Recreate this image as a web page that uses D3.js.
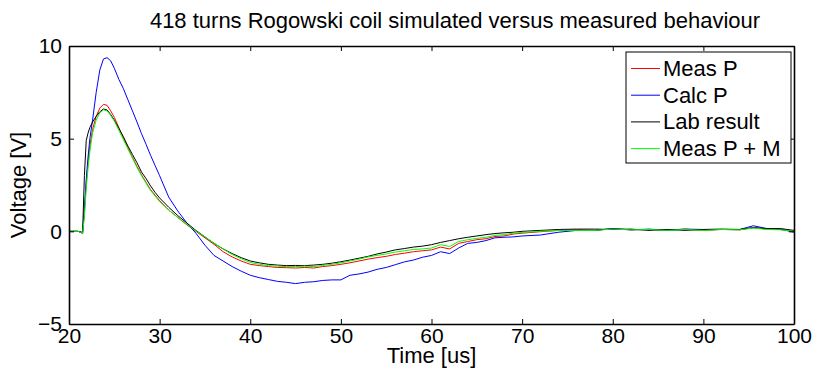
<!DOCTYPE html>
<html><head><meta charset="utf-8">
<script src="https://cdn.jsdelivr.net/npm/d3@7"></script>
<style>html,body{margin:0;padding:0;background:#fff;} svg{display:block;font-family:"Liberation Sans",Arial,sans-serif;}</style>
</head><body>
<script>
const title = "418 turns Rogowski coil simulated versus measured behaviour";
const xLabel = "Time [us]";
const yLabel = "Voltage [V]";
const xTicks = [20,30,40,50,60,70,80,90,100];
const yTicks = [-5,0,5,10];
const seriesNames = ["Meas P","Calc P","Lab result","Meas P + M"];
const seriesColors = ["#ff0000","#0000ff","#000000","#00ff00"];

const time = [20,21,21.5,21.7,21.9,22.1,22.3,22.6,23,23.4,23.8,24.2,24.6,25,25.5,26,26.5,27,27.5,28,28.5,29,29.5,30,
31,32,33,34,35,36,37,38,39,40,41,42,43,44,45,46,47,48,49,50,51,52,53,54,55,56,57,58,59,60,61,62,63,64,65,66,67,68,69,70,
72,74,76,78,80,82,84,86,88,90,92,94,95.5,97,98.5,100];

const measP = [0,0,-0.1,1.0,2.6,3.7,4.6,5.5,6.2,6.65,6.85,6.8,6.5,6.15,5.6,5.05,4.5,4.0,3.5,3.05,2.65,2.25,1.95,1.65,
1.15,0.75,0.35,0,-0.35,-0.7,-1.1,-1.38,-1.6,-1.78,-1.85,-1.9,-1.95,-1.96,-1.98,-1.95,-1.98,-1.9,-1.85,-1.78,-1.7,-1.6,-1.5,-1.42,-1.35,-1.25,-1.18,-1.1,-1.05,-1.0,-0.85,-0.95,-0.65,-0.55,-0.45,-0.4,-0.28,-0.25,-0.15,-0.1,
-0.02,0.05,0.08,0.05,0.15,0.08,0.1,0.08,0.12,0.05,0.1,0.08,0.2,0.12,0.1,0.0];

const calcP = [0,0,-0.1,1.2,2.8,4.0,5.0,6.0,7.5,8.7,9.3,9.37,9.2,8.8,8.2,7.7,7.1,6.5,5.9,5.27,4.7,4.1,3.55,3.0,
1.85,1.1,0.45,-0.1,-0.75,-1.3,-1.6,-1.9,-2.15,-2.37,-2.5,-2.6,-2.7,-2.75,-2.82,-2.75,-2.72,-2.65,-2.62,-2.62,-2.37,-2.3,-2.2,-2.05,-1.95,-1.8,-1.65,-1.55,-1.4,-1.3,-1.1,-1.2,-0.9,-0.65,-0.6,-0.5,-0.35,-0.32,-0.3,-0.25,
-0.2,-0.05,0.05,0.05,0.15,0.08,0.12,0.05,0.12,0.1,0.1,0.1,0.3,0.15,0.12,-0.05];

const labResult = [0,0,-0.05,3.0,4.9,5.3,5.6,5.9,6.2,6.45,6.6,6.55,6.3,6.0,5.55,5.1,4.6,4.15,3.7,3.2,2.85,2.45,2.1,1.8,
1.3,0.85,0.45,0.05,-0.3,-0.65,-0.95,-1.2,-1.42,-1.6,-1.7,-1.78,-1.82,-1.85,-1.84,-1.85,-1.82,-1.78,-1.72,-1.64,-1.55,-1.45,-1.35,-1.22,-1.12,-1.0,-0.93,-0.85,-0.8,-0.72,-0.6,-0.5,-0.4,-0.32,-0.25,-0.18,-0.12,-0.08,-0.05,0.0,
0.05,0.1,0.12,0.12,0.1,0.12,0.05,0.1,0.05,0.1,0.12,0.1,0.2,0.15,0.15,0.05];

const measPM = [0,0,-0.1,0.8,2.3,3.4,4.3,5.3,6.0,6.4,6.55,6.5,6.25,5.95,5.45,4.95,4.45,3.95,3.45,3.0,2.6,2.2,1.9,1.6,
1.15,0.75,0.38,0.02,-0.3,-0.65,-0.95,-1.25,-1.48,-1.68,-1.78,-1.85,-1.88,-1.9,-1.9,-1.88,-1.9,-1.84,-1.78,-1.7,-1.6,-1.5,-1.38,-1.3,-1.22,-1.12,-1.05,-0.98,-0.95,-0.9,-0.72,-0.82,-0.55,-0.45,-0.38,-0.32,-0.22,-0.18,-0.1,-0.06,
0.0,0.05,0.05,0.05,0.12,0.08,0.1,0.05,0.1,0.05,0.1,0.08,0.18,0.1,0.08,0.0];

const seriesValues = [measP, calcP, labResult, measPM];

const W = 816, H = 376;
const mLeft = 69, mRight = 794, mTop = 46, mBottom = 324;
const svg = d3.select("body").append("svg").attr("width", W).attr("height", H);

const x = d3.scaleLinear().domain([20,100]).range([mLeft,mRight]);
const y = d3.scaleLinear().domain([-5,10]).range([mBottom,mTop]);

// data lines
const line = d3.line().x(d => x(d[0])).y(d => y(d[1]));
seriesValues.forEach((vals, i) => {
  svg.append("path")
    .datum(time.map((t, j) => [t, vals[j]]))
    .attr("d", line)
    .attr("fill", "none")
    .attr("stroke", seriesColors[i])
    .attr("stroke-width", 1)
    .attr("stroke-linejoin", "round");
});

// axes with inward ticks
const tickLen = 5;
const xAxisB = d3.axisBottom(x).tickValues(xTicks).tickSizeInner(-tickLen).tickSizeOuter(0).tickPadding(4);
const xAxisT = d3.axisTop(x).tickValues(xTicks).tickSizeInner(-tickLen).tickSizeOuter(0).tickFormat("");
const yAxisL = d3.axisLeft(y).tickValues(yTicks).tickSizeInner(-tickLen).tickSizeOuter(0).tickPadding(7);
const yAxisR = d3.axisRight(y).tickValues(yTicks).tickSizeInner(-tickLen).tickSizeOuter(0).tickFormat("");

function style(g){
  g.select(".domain").attr("stroke","#000").attr("stroke-width",1.6);
  g.selectAll(".tick line").attr("stroke","#000").attr("stroke-width",1);
  g.selectAll(".tick text").attr("fill","#000").style("font-size","21px").style("font-family",'"Liberation Sans",Arial,sans-serif');
}
svg.append("g").attr("transform",`translate(0,${mBottom})`).call(xAxisB).call(style);
svg.append("g").attr("transform",`translate(0,${mTop})`).call(xAxisT).call(style);
svg.append("g").attr("transform",`translate(${mLeft},0)`).call(yAxisL).call(style);
svg.append("g").attr("transform",`translate(${mRight},0)`).call(yAxisR).call(style);

// title and labels
svg.append("text").attr("x",455).attr("y",28).attr("text-anchor","middle")
  .style("font-size","22px").text(title);
svg.append("text").attr("x",(mLeft+mRight)/2).attr("y",363).attr("text-anchor","middle")
  .style("font-size","22px").text(xLabel);
svg.append("text").attr("transform",`translate(26,${(mTop+mBottom)/2}) rotate(-90)`).attr("text-anchor","middle")
  .style("font-size","22px").text(yLabel);

// legend
const lg = svg.append("g");
lg.append("rect").attr("x",626).attr("y",52).attr("width",165).attr("height",111)
  .attr("fill","#fff").attr("stroke","#000").attr("stroke-width",1);
seriesNames.forEach((name, i) => {
  const cy = 68.5 + i*26.7;
  lg.append("line").attr("x1",631).attr("x2",660).attr("y1",cy).attr("y2",cy)
    .attr("stroke",seriesColors[i]).attr("stroke-width",1);
  lg.append("text").attr("x",663).attr("y",cy+7.5).style("font-size","22px").text(name);
});
</script>
</body></html>
